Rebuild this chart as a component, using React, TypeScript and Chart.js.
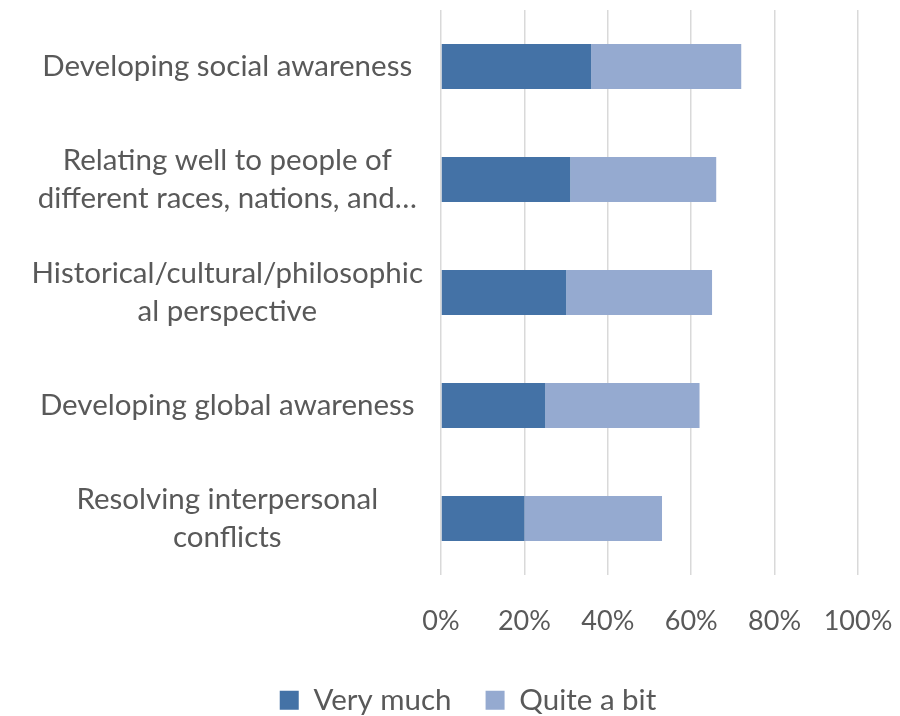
import React, { useEffect, useRef } from "react";
import { Chart, registerables } from "chart.js";

Chart.register(...registerables);

const categories: string[][] = [
  ["Developing social awareness"],
  ["Relating well to people of", "different races, nations, and…"],
  ["Historical/cultural/philosophic", "al perspective"],
  ["Developing global awareness"],
  ["Resolving interpersonal", "conflicts"],
];
const veryMuch = [36, 31, 30, 25, 20];
const quiteABit = [36, 35, 35, 37, 33];
const seriesNames = ["Very much", "Quite a bit"];
const tickValues = [0, 20, 40, 60, 80, 100];

const FONT = "Lato, 'Open Sans', sans-serif";
const TEXT = "#595959";
const PAD_BOTTOM = -9;
const PAD_LEFT = 8;
const PLOT_LEFT = 441;
const PLOT_BOTTOM = 575;
const LEGEND_SHIFT = 35;

const legendShift = {
  id: "legendShift",
  afterLayout(chart: any) {
    if (chart.legend) {
      chart.legend.left += LEGEND_SHIFT;
      chart.legend.right += LEGEND_SHIFT;
    }
  },
};

export default function App() {
  const ref = useRef<HTMLCanvasElement | null>(null);

  useEffect(() => {
    document.body.style.margin = "0";
    const ctx = ref.current!.getContext("2d")!;
    const chart = new Chart(ctx, {
      type: "bar",
      data: {
        labels: categories as any,
        datasets: [
          {
            label: seriesNames[0],
            data: veryMuch,
            backgroundColor: "#4472A6",
            barPercentage: 0.4,
            categoryPercentage: 1,
          },
          {
            label: seriesNames[1],
            data: quiteABit,
            backgroundColor: "#95AAD0",
            barPercentage: 0.4,
            categoryPercentage: 1,
          },
        ],
      },
      plugins: [legendShift],
      options: {
        indexAxis: "y",
        animation: false,
        responsive: false,
        layout: { padding: { top: 10, right: 42, left: PAD_LEFT, bottom: PAD_BOTTOM } },
        plugins: {
          tooltip: { enabled: false },
          legend: {
            position: "bottom",
            labels: {
              color: TEXT,
              font: { family: FONT, size: 29.5 },
              boxWidth: 19,
              boxHeight: 19,
              padding: 34,
            },
          },
        },
        scales: {
          x: {
            stacked: true,
            min: 0,
            max: 100,
            afterBuildTicks: (scale: any) => {
              scale.ticks = tickValues.map((v) => ({ value: v }));
            },
            afterFit: (scale: any) => {
              const legH = scale.chart.legend ? scale.chart.legend.height : 0;
              scale.height = 716 - PAD_BOTTOM - legH - PLOT_BOTTOM;
              scale.paddingLeft = 0;
              scale.paddingRight = 0;
              scale.paddingTop = 0;
              scale.paddingBottom = 0;
            },
            grid: { color: "#D9D9D9", lineWidth: 1.5, drawTicks: false },
            border: { display: false },
            ticks: {
              color: TEXT,
              font: { family: FONT, size: 27 },
              padding: 30,
              maxRotation: 0,
              callback: (v: any) => v + "%",
            },
          },
          y: {
            stacked: true,
            afterFit: (scale: any) => {
              scale.width = PLOT_LEFT - PAD_LEFT;
              scale.paddingLeft = 0;
              scale.paddingRight = 0;
              scale.paddingTop = 0;
              scale.paddingBottom = 0;
            },
            grid: { display: false, drawTicks: false },
            border: { display: false },
            ticks: {
              color: TEXT,
              crossAlign: "center",
              padding: 18,
              font: { family: FONT, size: 29.5, lineHeight: 1.29 },
            },
          },
        },
      },
    } as any);
    return () => chart.destroy();
  }, []);

  return (
    <div style={{ position: "absolute", left: 0, top: 0, width: 900, height: 716 }}>
      <canvas ref={ref} width={900} height={716} style={{ width: 900, height: 716, display: "block" }} />
    </div>
  );
}
